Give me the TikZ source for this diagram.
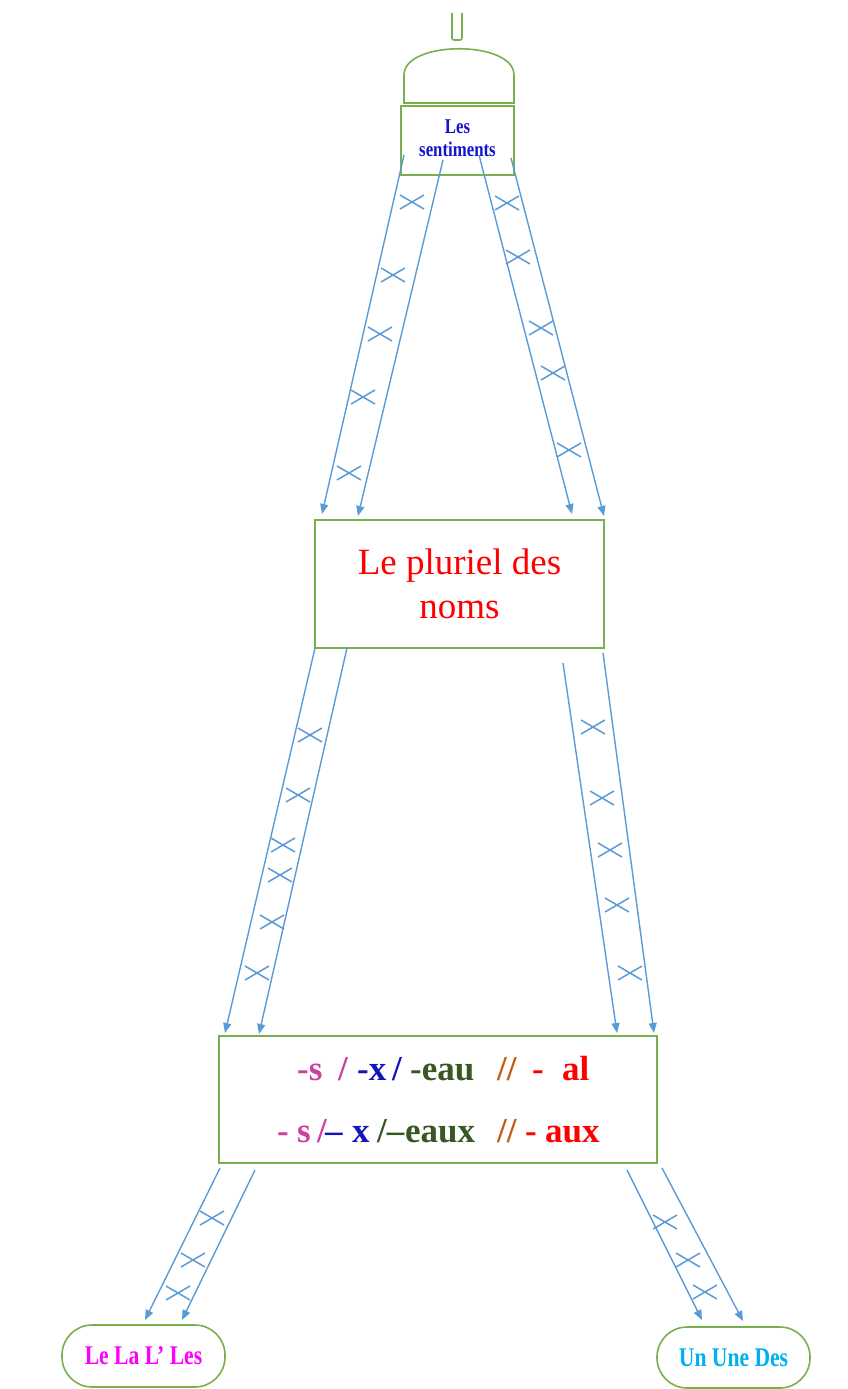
\documentclass[tikz,border=0pt]{standalone}
\usepackage{fontspec}
\setmainfont{Liberation Serif}
\usepackage{graphicx}
\usetikzlibrary{arrows.meta}

\definecolor{boxgreen}{RGB}{120,176,80}
\definecolor{rail}{RGB}{91,155,213}
\definecolor{sentblue}{RGB}{20,20,205}
\definecolor{sufpink}{RGB}{205,64,160}
\definecolor{sufblue}{RGB}{20,20,190}
\definecolor{sufgreen}{RGB}{56,87,35}
\definecolor{suforange}{RGB}{197,90,17}
\definecolor{sufred}{RGB}{255,0,0}
\definecolor{artmag}{RGB}{255,0,255}
\definecolor{artcyan}{RGB}{0,176,240}

\tikzset{
  frame/.style={draw=boxgreen,line width=1.6pt,fill=white,inner sep=0pt,align=center},
  pill/.style={frame,rounded corners=30pt},
  railarrow/.style={draw=rail,line width=1.4pt,-{Triangle[length=10pt,width=8pt]}},
  crossmark/.pic={\draw[rail,line width=1.5pt] (-12,-7) -- (12,7) (-12,7) -- (12,-7);},
  suffix/.style={anchor=base west,inner sep=0pt,font=\fontsize{35}{40}\selectfont\bfseries},
}

\begin{document}
\begin{tikzpicture}[x=1pt,y=-1pt]
\useasboundingbox (0,0) rectangle (848,1389);

% antenna and dome on top of the tower
\draw[boxgreen,line width=1.6pt,rounded corners=2pt] (452,13) -- (452,40) -- (462,40) -- (462,13);
\draw[boxgreen,line width=1.6pt,fill=white] (404,103) -- (404,75) .. controls (404,40) and (514,40) .. (514,75) -- (514,103) -- cycle;

% boxes
\node[frame,minimum width=113pt,minimum height=69pt,text=sentblue,
      font=\fontsize{21}{23}\selectfont\bfseries] (sent) at (457.5,140.5)
  {\scalebox{0.8}[1]{\begin{tabular}{@{}c@{}}Les\\sentiments\end{tabular}}};
\node[frame,minimum width=289pt,minimum height=128pt,text=sufred,
      font=\fontsize{37}{44}\selectfont] (plur) at (459.5,584) {Le pluriel des\\noms};
\node[frame,minimum width=438pt,minimum height=127pt] (suf) at (438,1099.5) {};
\node[pill,minimum width=163pt,minimum height=62pt,text=artmag,
      font=\fontsize{27}{30}\selectfont\bfseries] (defart) at (143.5,1356)
  {\scalebox{0.8}[1]{Le La L’ Les}};
\node[pill,minimum width=153pt,minimum height=61pt,text=artcyan,
      font=\fontsize{27}{30}\selectfont\bfseries] (indart) at (733.5,1357.5)
  {\scalebox{0.8}[1]{Un Une Des}};

% endings, first line: singular
\node[suffix,text=sufpink]   (a1) at (297,1080) {-s};
\node[suffix,text=sufpink]   (a2) at (338,1080) {/};
\node[suffix,text=sufblue]   (a3) at (357,1080) {-x};
\node[suffix,text=sufblue]   (a4) at (392,1080) {/};
\node[suffix,text=sufgreen]  (a5) at (410,1080) {-eau};
\node[suffix,text=suforange] (a6) at (497,1080) {//};
\node[suffix,text=sufred]    (a7) at (532,1080) {-};
\node[suffix,text=sufred]    (a8) at (562,1080) {al};
% endings, second line: plural
\node[suffix,text=sufpink]   (b1) at (277,1142) {-};
\node[suffix,text=sufpink]   (b2) at (297,1142) {s};
\node[suffix,text=sufpink]   (b3) at (317,1142) {/};
\node[suffix,text=sufblue]   (b4) at (325,1142) {–};
\node[suffix,text=sufblue]   (b5) at (352,1142) {x};
\node[suffix,text=sufgreen]  (b6) at (377,1142) {/–};
\node[suffix,text=sufgreen]  (b7) at (405,1142) {eaux};
\node[suffix,text=suforange] (b8) at (497,1142) {//};
\node[suffix,text=sufred]    (b9) at (525,1142) {-};
\node[suffix,text=sufred]    (b10) at (545,1142) {aux};

% rail end points
\coordinate (t1s) at (404,155); \coordinate (t1e) at (322,514);
\coordinate (t2s) at (443,160); \coordinate (t2e) at (358,516);
\coordinate (t3s) at (479,155); \coordinate (t3e) at (572,514);
\coordinate (t4s) at (511,158); \coordinate (t4e) at (604,516);
\coordinate (m1s) at (315,648); \coordinate (m1e) at (225,1033);
\coordinate (m2s) at (347,648); \coordinate (m2e) at (259,1034);
\coordinate (m3s) at (563,663); \coordinate (m3e) at (617,1033);
\coordinate (m4s) at (603,653); \coordinate (m4e) at (654,1033);
\coordinate (f1s) at (220,1168); \coordinate (f1e) at (145,1320);
\coordinate (f2s) at (255,1170); \coordinate (f2e) at (182,1320);
\coordinate (f3s) at (627,1170); \coordinate (f3e) at (702,1320);
\coordinate (f4s) at (662,1168); \coordinate (f4e) at (743,1321);

% rails of the tower
\foreach \r in {t1,t2,t3,t4,m1,m2,m3,m4,f1,f2,f3,f4}
  \draw[railarrow] (\r s) -- (\r e);

% cross bracing between the rails
\foreach \p in {(412,202),(393,275),(380,334),(363,397),(349,473),
                (507,203),(518,257),(541,328),(553,373),(569,450),
                (310,735),(298,795),(283,845),(280,875),(272,922),(257,973),
                (593,727),(602,798),(610,850),(617,905),(630,973),
                (212,1218),(193,1260),(178,1293),
                (665,1222),(688,1260),(705,1292)}
  \pic at \p {crossmark};
\end{tikzpicture}
\end{document}
